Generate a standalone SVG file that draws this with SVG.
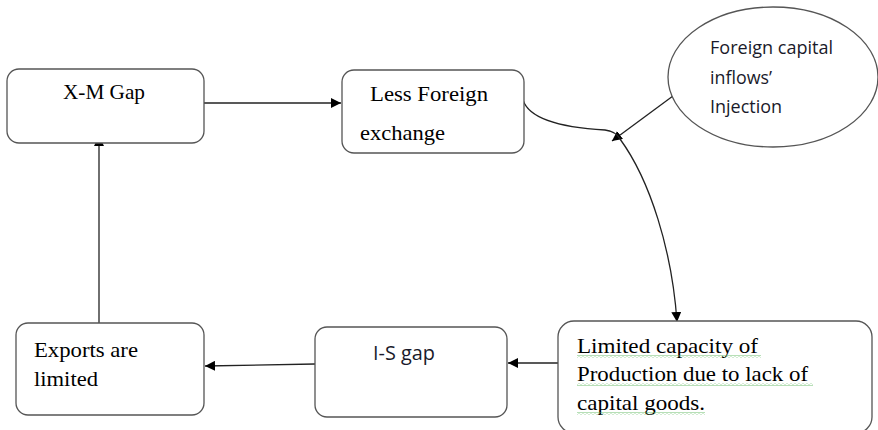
<svg xmlns="http://www.w3.org/2000/svg" width="878" height="430" viewBox="0 0 878 430">
<defs>
<style>
.box{fill:#fff;stroke:#555;stroke-width:1.3}
.ln{fill:none;stroke:#222;stroke-width:1.3}
.serif{font-family:"Liberation Serif","Times New Roman",serif;font-size:22px;fill:#000}
.sans{font-family:"Open Sans","Noto Sans","Liberation Sans",sans-serif;font-size:18px;fill:#1a1a2a}
</style>
<marker id="ah" viewBox="0 0 10 10" refX="10" refY="5" markerWidth="10" markerHeight="10" markerUnits="userSpaceOnUse" orient="auto">
<path d="M0,0 L10,5 L0,10 z" fill="#000"/>
</marker>
<pattern id="wv" x="0" y="0" width="4" height="3" patternUnits="userSpaceOnUse">
<path d="M0,1.5 Q1,0 2,1.5 T4,1.5" fill="none" stroke="#5cb85c" stroke-width="0.7"/>
</pattern>
</defs>
<rect width="878" height="430" fill="#fff"/>
<g id="connectors">
<line class="ln" x1="204" y1="103" x2="341" y2="103" marker-end="url(#ah)"/>
<line class="ln" x1="99" y1="323" x2="99" y2="136" marker-end="url(#ah)"/>
<line class="ln" x1="315" y1="364" x2="205" y2="366" marker-end="url(#ah)"/>
<line class="ln" x1="558" y1="363" x2="508" y2="363" marker-end="url(#ah)"/>
<line class="ln" x1="677" y1="93" x2="612" y2="141" marker-end="url(#ah)"/>
<path class="ln" d="M523,100 C530,122 570,128 605,130 C615,131 618,136 620,139" />
<path class="ln" d="M620,139 C650,180 672,250 677,322" marker-end="url(#ah)"/>
</g>
<g id="xm-gap">
<rect class="box" x="7" y="69" width="197" height="74" rx="12"/>
<text class="serif" x="63" y="99" textLength="82" lengthAdjust="spacingAndGlyphs">X-M Gap</text>
</g>
<g id="less-foreign">
<rect class="box" x="342" y="70" width="182" height="83" rx="12"/>
<text class="serif" x="370" y="101" textLength="118" lengthAdjust="spacingAndGlyphs">Less Foreign</text>
<text class="serif" x="360" y="140" textLength="85" lengthAdjust="spacingAndGlyphs">exchange</text>
</g>
<g id="foreign-capital">
<ellipse class="box" cx="773" cy="77" rx="105" ry="70"/>
<text class="sans" x="710" y="54" textLength="123" lengthAdjust="spacingAndGlyphs">Foreign capital</text>
<text class="sans" x="710" y="84" textLength="62" lengthAdjust="spacingAndGlyphs">inflows’</text>
<text class="sans" x="710" y="113" textLength="72" lengthAdjust="spacingAndGlyphs">Injection</text>
</g>
<g id="limited-capacity">
<rect class="box" x="558" y="321" width="314" height="112" rx="16"/>
<text class="serif" x="577" y="353" textLength="181" lengthAdjust="spacingAndGlyphs">Limited capacity of</text>
<text class="serif" x="577" y="381" textLength="231" lengthAdjust="spacingAndGlyphs">Production due to lack of</text>
<text class="serif" x="577" y="410" textLength="128" lengthAdjust="spacingAndGlyphs">capital goods.</text>
<rect x="577" y="355" width="184" height="3" fill="url(#wv)"/>
<rect x="577" y="383" width="236" height="3" fill="url(#wv)"/>
<rect x="577" y="412" width="128" height="3" fill="url(#wv)"/>
</g>
<g id="is-gap">
<rect class="box" x="315" y="327" width="192" height="90" rx="12"/>
<text class="sans" x="373" y="360" style="font-size:20px" textLength="62" lengthAdjust="spacingAndGlyphs">I-S gap</text>
</g>
<g id="exports">
<rect class="box" x="16" y="323" width="188" height="92" rx="12"/>
<text class="serif" x="34" y="357" textLength="104" lengthAdjust="spacingAndGlyphs">Exports are</text>
<text class="serif" x="34" y="386" textLength="64" lengthAdjust="spacingAndGlyphs">limited</text>
</g>
</svg>
